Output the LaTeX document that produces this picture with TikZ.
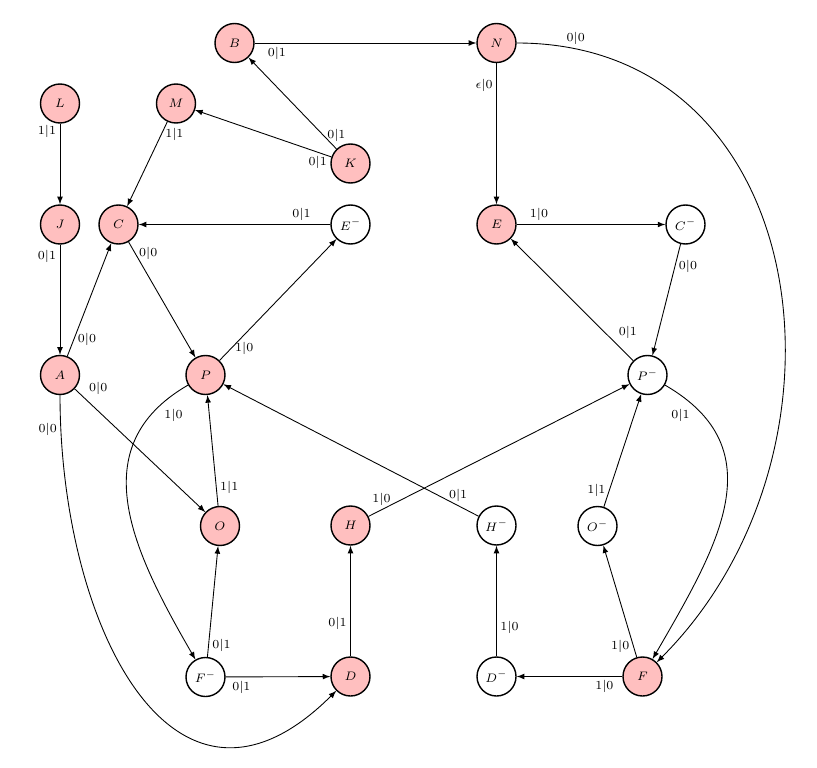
\documentclass[tikz,border=0pt]{standalone}
\usepackage{amsmath,amssymb}
\usepackage{xcolor}
\usepackage{tikz}
\usetikzlibrary{positioning}
\definecolor{statepink}{HTML}{FFBFBF}

\begin{document}
\begin{tikzpicture}[
        on grid,
        every node/.style={font=\scriptsize},
        state/.style={circle, draw, line width=0.8pt, minimum size=0.78cm, inner sep=0pt},
        marked/.style={state, fill=statepink},
        line/.style={-latex, line width=0.5pt},
        textnode/.style={font=\scriptsize, inner sep=2pt}
    ]
        \useasboundingbox (0,0) rectangle (16.34,-15.36);

        % Top rows
        \node[marked] (B) at (4.69,-0.86) {$B$};
        \node[marked, right=5.24cm of B] (N) {$N$};
        \node[marked] (L) at (1.20,-2.07) {$L$};
        \node[marked] (M) at (3.52,-2.07) {$M$};
        \node[marked] (K) at (7.01,-3.27) {$K$};

        % Middle rows
        \node[marked, below=2.42cm of L] (J) {$J$};
        \node[marked, right=1.17cm of J] (C) {$C$};
        \node[state, below=1.22cm of K] (Em) {$E^{-}$};
        \node[marked, below=3.63cm of N] (E) {$E$};
        \node[state, right=3.78cm of E] (Cm) {$C^{-}$};
        \node[marked, below=3.01cm of J] (A) {$A$};
        \node[marked, right=2.91cm of A] (P) {$P$};
        \node[state] (Pm) at (12.95,-7.50) {$P^{-}$};

        % Bottom rows
        \node[marked] (O) at (4.40,-10.52) {$O$};
        \node[marked, below=6.02cm of Em] (H) {$H$};
        \node[state, below=6.02cm of E] (Hm) {$H^{-}$};
        \node[state] (Om) at (11.95,-10.52) {$O^{-}$};
        \node[state, below=6.04cm of P] (Fm) {$F^{-}$};
        \node[marked, below=3.02cm of H] (D) {$D$};
        \node[state, below=3.02cm of Hm] (Dm) {$D^{-}$};
        \node[marked, right=2.92cm of Dm] (F) {$F$};

        % Top part
        \draw[line] (B) -- node[textnode, pos=.1, below] {$0|1$} (N);
        \draw[line] (N) -- node[textnode, pos=.16, left] {$\epsilon|0$} (E);
        \draw[line] (N) to[out=0, in=45, looseness=1.2] node[textnode, pos=.07, above] {$0|0$} (F);
        \draw[line] (L) -- node[textnode, pos=.1, left] {$1|1$} (J);
        \draw[line] (M) -- node[textnode, pos=.15, right] {$1|1$} (C);
        \draw[line] (K) -- node[textnode, pos=.15, right] {$0|1$} (B);
        \draw[line] (K) -- node[textnode, pos=.1, below] {$0|1$} (M);
        \draw[line] (J) -- node[textnode, pos=.11, left] {$0|1$} (A);
        \draw[line] (Em) -- node[textnode, pos=.15, above] {$0|1$} (C);
        \draw[line] (E) -- node[textnode, pos=.15, above] {$1|0$} (Cm);

        % Left part
        \draw[line] (A) -- node[textnode, pos=.15, right] {$0|0$} (C);
        \draw[line] (C) -- node[textnode, pos=.1, right] {$0|0$} (P);
        \draw[line] (P) -- node[textnode, pos=.1, right] {$1|0$} (Em);
        \draw[line] (A) -- node[textnode, pos=.08, above right] {$0|0$} (O);
        \draw[line] (A) to[out=-90, in=-135, looseness=1.45] node[textnode, pos=.05, left] {$0|0$} (D);
        \draw[line] (P) to[out=210, in=120, looseness=1.15] node[textnode, pos=.1, below right] {$1|0$} (Fm);
        \draw[line] (O) -- node[textnode, pos=.17, right] {$1|1$} (P);
        \draw[line] (Hm) -- node[textnode, pos=.08, above] {$0|1$} (P);
        \draw[line] (H) -- node[textnode, pos=.05, above] {$1|0$} (Pm);

        % Bottom part
        \draw[line] (Fm) -- node[textnode, pos=.1, right] {$0|1$} (O);
        \draw[line] (Fm) -- node[textnode, pos=.15, below] {$0|1$} (D);
        \draw[line] (D) -- node[textnode, pos=.3, left] {$0|1$} (H);
        \draw[line] (Dm) -- node[textnode, pos=.26, right] {$1|0$} (Hm);
        \draw[line] (F) -- node[textnode, pos=.17, below] {$1|0$} (Dm);
        \draw[line] (F) -- node[textnode, pos=.1, left] {$1|0$} (Om);

        % Right part
        \draw[line] (Om) -- node[textnode, pos=.15, left] {$1|1$} (Pm);
        \draw[line] (Pm) to[out=-30, in=60, looseness=1.2] node[textnode, pos=.1, below left] {$0|1$} (F);
        \draw[line] (Pm) -- node[textnode, pos=.15, above right] {$0|1$} (E);
        \draw[line] (Cm) -- node[textnode, pos=.2, right] {$0|0$} (Pm);

    \end{tikzpicture}
\end{document}
